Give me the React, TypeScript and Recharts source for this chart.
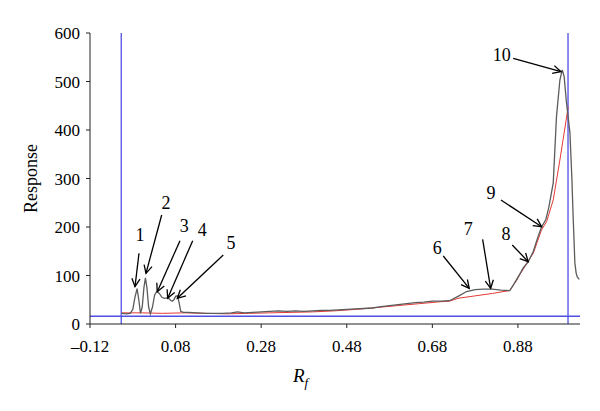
import React from "react";
import {
  LineChart,
  Line,
  XAxis,
  YAxis,
  ReferenceLine,
  ReferenceDot,
} from "recharts";

// Sample chromatogram (black/gray trace): [Rf, response]
const sampleRf = [
  -0.046, -0.035, -0.026, -0.02, -0.015, -0.01, -0.006, -0.002, 0.002, 0.006,
  0.0095, 0.013, 0.017, 0.021, 0.026, 0.031, 0.036, 0.042, 0.048, 0.054, 0.06,
  0.064, 0.068, 0.072, 0.076, 0.08, 0.084, 0.088, 0.092, 0.098, 0.11, 0.13,
  0.15, 0.17, 0.19, 0.21, 0.225, 0.24, 0.26, 0.28, 0.3, 0.32, 0.34, 0.36, 0.38,
  0.4, 0.42, 0.44, 0.46, 0.48, 0.5, 0.52, 0.54, 0.56, 0.58, 0.6, 0.62, 0.64,
  0.66, 0.68, 0.7, 0.72, 0.74, 0.76, 0.78, 0.8, 0.82, 0.84, 0.861, 0.869,
  0.877, 0.885, 0.892, 0.904, 0.916, 0.925, 0.935, 0.945, 0.952, 0.9625,
  0.97, 0.978, 0.9835, 0.988, 0.993, 1.0015, 1.006, 1.009, 1.013, 1.016,
  1.0186, 1.0233,
];
const sampleResponse = [
  22, 21, 22, 30, 55, 73, 50, 22, 35, 75, 95, 75, 35, 21, 35, 60, 67, 63, 55,
  53, 54, 53, 49, 47, 50, 57, 58, 45, 26, 24, 24, 23, 22, 22, 22, 23, 25, 23,
  24, 25, 26, 27, 26, 27, 26, 27, 28, 28, 29, 30, 31, 32, 33, 36, 38, 40, 42,
  44, 45, 47, 47, 48, 57, 67, 71, 72, 72, 70, 69, 80, 92, 104, 115, 128, 150,
  175, 200, 215, 240, 291, 427, 503, 524, 510, 460, 394, 300, 221, 126, 105,
  97, 92,
];

// Baseline trace (red): [Rf, response]
const baselineRf = [
  -0.046, 0.0, 0.05, 0.1, 0.15, 0.2, 0.25, 0.3, 0.35, 0.4, 0.45, 0.5, 0.55,
  0.6, 0.65, 0.7, 0.72, 0.74, 0.78, 0.82, 0.861, 0.869, 0.877, 0.885, 0.892,
  0.9, 0.916, 0.935, 0.947, 0.9625, 0.978, 0.9975,
];
const baselineResponse = [
  23, 23, 22, 23, 22, 21, 22, 23, 24, 25, 27, 30, 34, 38, 42, 46, 47, 53, 58,
  63, 69, 80, 90, 103, 112, 125, 146, 194, 211, 256, 338, 448,
];

// Tick labels
const xTicks = [-0.12, 0.08, 0.28, 0.48, 0.68, 0.88];
const yTicks = [0, 100, 200, 300, 400, 500, 600];

// Reference lines (origin, solvent front, threshold)
const originRf = -0.047;
const frontRf = 0.997;
const thresholdResponse = 16;

// Peak annotations: label, label position, arrow tail, arrow tip (data units)
const peakLabels = ["1", "2", "3", "4", "5", "6", "7", "8", "9", "10"];
const labelRf = [-0.003, 0.0576, 0.1003, 0.1424, 0.2094, 0.6915, 0.7639, 0.852, 0.817, 0.842];
const labelResp = [183.5, 250, 202, 193.8, 166.4, 156, 195.3, 185.6, 269.5, 554.6];
const tailRf = [-0.0055, 0.0475, 0.0903, 0.12, 0.1914, 0.7055, 0.7975, 0.8667, 0.8403, 0.869];
const tailResp = [145.8, 224.7, 171.8, 171.8, 142.3, 140.2, 174.6, 162.9, 255.7, 547.8];
const tipRf = [-0.0149, 0.0108, 0.0372, 0.0615, 0.084, 0.7662, 0.8162, 0.904, 0.9354, 0.9805];
const tipResp = [76.9, 104.5, 66.6, 53, 53, 73.6, 73.6, 128.5, 200.6, 520.2];

const sampleData = sampleRf.map((rf, i) => ({ rf, v: sampleResponse[i] }));
const baselineData = baselineRf.map((rf, i) => ({ rf, v: baselineResponse[i] }));

const FONT = '"Liberation Serif", "Times New Roman", serif';

const Arrow = (props: any) => {
  const { x1, y1, x2, y2 } = props;
  const dx = x2 - x1;
  const dy = y2 - y1;
  const len = Math.sqrt(dx * dx + dy * dy) || 1;
  const ux = dx / len;
  const uy = dy / len;
  const L = 9;
  const th = (27 * Math.PI) / 180;
  const c = Math.cos(th);
  const s = Math.sin(th);
  const ax = x2 - L * (ux * c - uy * s);
  const ay = y2 - L * (uy * c + ux * s);
  const bx = x2 - L * (ux * c + uy * s);
  const by = y2 - L * (uy * c - ux * s);
  return (
    <g>
      <line x1={x1} y1={y1} x2={x2} y2={y2} stroke="#000" strokeWidth={1.3} />
      <polyline
        points={`${ax},${ay} ${x2},${y2} ${bx},${by}`}
        fill="none"
        stroke="#000"
        strokeWidth={1.3}
      />
    </g>
  );
};

const XLabel = (props: any) => {
  const vb = props.viewBox || {};
  const x = vb.x + 203;
  const y = vb.y + 58;
  return (
    <text x={x} y={y} fontFamily={FONT} fontSize={19} fill="#000" fontStyle="italic">
      <tspan>R</tspan>
      <tspan dy={5} fontSize={13}>f</tspan>
    </text>
  );
};

const fmtX = (v: number) => (v < 0 ? "\u2013" + Math.abs(v).toFixed(2) : v.toFixed(2));

export default function App() {
  return (
    <div style={{ position: "absolute", left: 0, top: 0, width: 600, height: 411, background: "#fff" }}>
      <LineChart
        width={600}
        height={411}
        margin={{ top: 33, right: 20, bottom: 0, left: 0 }}
      >
        <XAxis
          type="number"
          dataKey="rf"
          domain={[-0.12, 1.025]}
          ticks={xTicks}
          tickFormatter={fmtX}
          allowDataOverflow
          height={87}
          tickSize={4}
          tickMargin={12}
          stroke="#222"
          tick={{ fill: "#000", fontFamily: FONT, fontSize: 17 }}
          label={<XLabel />}
        />
        <YAxis
          type="number"
          domain={[0, 600]}
          ticks={yTicks}
          width={90}
          tickSize={4}
          tickMargin={6}
          stroke="#222"
          tick={{ fill: "#000", fontFamily: FONT, fontSize: 17 }}
          label={{
            value: "Response",
            angle: -90,
            position: "insideLeft",
            dx: 26,
            style: { fontFamily: FONT, fontSize: 18, fill: "#000", textAnchor: "middle" },
          }}
        />
        <ReferenceLine y={thresholdResponse} stroke="#4f4fe6" strokeWidth={1.3} />
        <ReferenceLine x={originRf} stroke="#4f4fe6" strokeWidth={1.3} />
        <ReferenceLine x={frontRf} stroke="#4f4fe6" strokeWidth={1.3} />
        <Line
          data={baselineData}
          dataKey="v"
          type="linear"
          stroke="#e53935"
          strokeWidth={1}
          dot={false}
          isAnimationActive={false}
        />
        <Line
          data={sampleData}
          dataKey="v"
          type="linear"
          stroke="#5c5c5c"
          strokeWidth={1.3}
          dot={false}
          isAnimationActive={false}
        />
        {peakLabels.map((lab, i) => (
          <ReferenceLine
            key={"a" + lab}
            segment={[
              { x: tailRf[i], y: tailResp[i] },
              { x: tipRf[i], y: tipResp[i] },
            ]}
            shape={(p: any) => <Arrow {...p} />}
          />
        ))}
        {peakLabels.map((lab, i) => (
          <ReferenceDot
            key={"l" + lab}
            x={labelRf[i]}
            y={labelResp[i]}
            r={0}
            shape={(p: any) => (
              <text
                x={p.cx}
                y={p.cy}
                textAnchor="middle"
                dominantBaseline="central"
                fontFamily={FONT}
                fontSize={18}
                fill="#000"
              >
                {lab}
              </text>
            )}
          />
        ))}
      </LineChart>
    </div>
  );
}
